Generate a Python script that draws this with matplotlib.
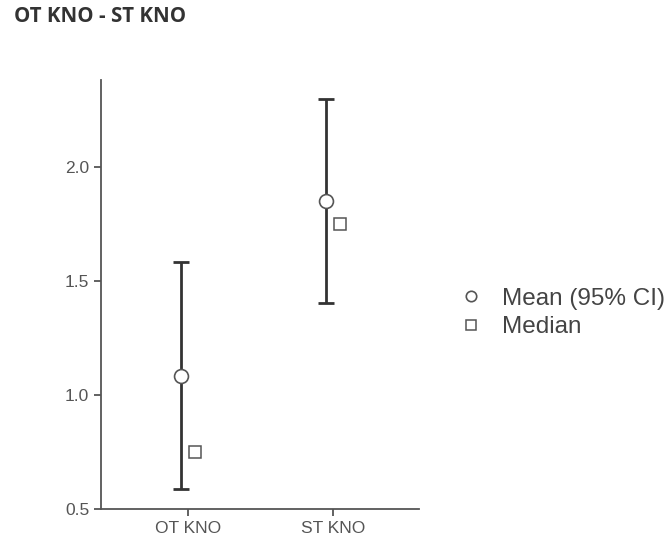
import numpy as np
import matplotlib.pyplot as plt
from matplotlib.lines import Line2D

# =========================
# Data
# =========================
groups = ["OT KNO", "ST KNO"]
means = [1.083, 1.851]
ci_low = [0.586, 1.405]
ci_high = [1.582, 2.297]
medians = [0.75, 1.75]

plt.rcParams["font.family"] = ["Liberation Sans", "DejaVu Sans"]

fig = plt.figure(figsize=(6.7, 5.47), dpi=100)
ax = fig.add_axes([0.1507, 0.0695, 0.4746, 0.7845])

x = np.arange(len(groups))
means = np.array(means)
lower = means - np.array(ci_low)
upper = np.array(ci_high) - means

ax.errorbar(x - 0.048, means, yerr=[lower, upper], fmt="none",
            ecolor="#333333", elinewidth=2, capsize=6, capthick=2, zorder=2)
ax.plot(x - 0.048, means, "o", ms=10, mfc="white", mec="#555555", mew=1.2, zorder=3)
ax.plot(x + 0.048, medians, "s", ms=8, mfc="white", mec="#555555", mew=1.1, zorder=3)

ax.set_xlim(-0.598, 1.595)
ax.set_ylim(0.5, 2.382)
ax.set_xticks(x)
ax.set_xticklabels(groups)
ax.set_yticks([0.5, 1.0, 1.5, 2.0])
ax.set_yticklabels(["0.5", "1.0", "1.5", "2.0"])

for s in ["top", "right"]:
    ax.spines[s].set_visible(False)
for s in ["left", "bottom"]:
    ax.spines[s].set_color("#555555")
    ax.spines[s].set_linewidth(1.3)
ax.tick_params(colors="#555555", labelcolor="#555555", labelsize=12.5,
               length=5, width=1.3)

fig.text(14 / 670, 1 - 16 / 547, "OT KNO - ST KNO", fontsize=14.8, fontweight="bold",
         color="#333333", va="center", ha="left", family=["Open Sans", "DejaVu Sans"])

handles = [
    Line2D([], [], ls="none", marker="o", ms=7.5, mfc="white", mec="#555555", mew=1.2),
    Line2D([], [], ls="none", marker="s", ms=6.5, mfc="white", mec="#555555", mew=1.1),
]
fig.legend(handles, ["Mean (95% CI)", "Median"], loc="center left",
           bbox_to_anchor=(461 / 670, 1 - 313 / 547), frameon=False,
           fontsize=17.5, labelcolor="#444444", handlelength=0.8,
           handletextpad=0.9, labelspacing=0.26, borderpad=0, borderaxespad=0)

fig.savefig("out.png", dpi=100)
